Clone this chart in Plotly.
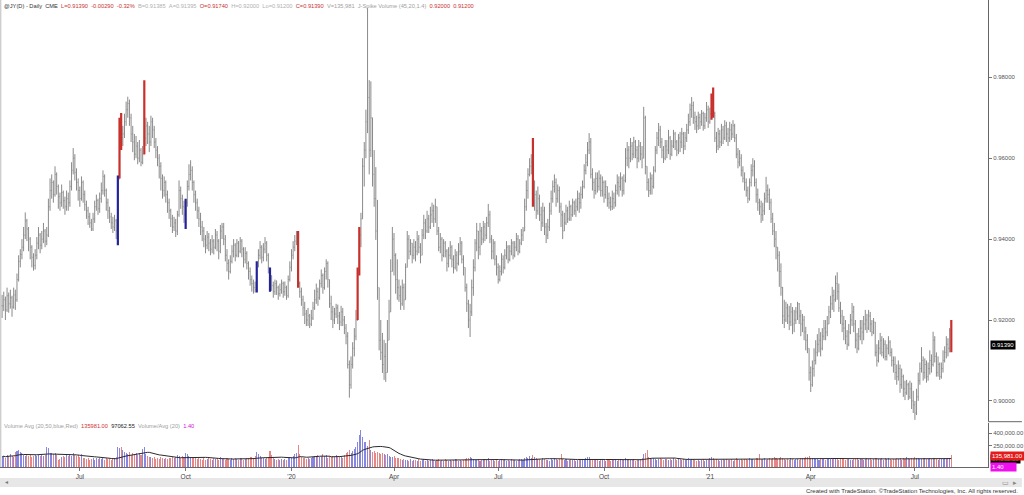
import plotly.graph_objects as go
import pandas as pd

# ---------------- data (prices in 1/10000, volume in thousands) ----------------
START = "2019-04-24"
HOLIDAYS = ["2019-05-27", "2019-07-04", "2019-09-02", "2019-11-28", "2019-12-25",
            "2020-01-01", "2020-01-20", "2020-02-17", "2020-04-10", "2020-05-25",
            "2020-07-03", "2020-09-07", "2020-11-26", "2020-12-25", "2021-01-01",
            "2021-01-18", "2021-02-15", "2021-04-02", "2021-05-31", "2021-07-05"]

HIGH = [
    9262, 9270, 9258, 9280, 9268, 9275, 9260, 9280, 9275, 9315,
    9360, 9375, 9400, 9430, 9466, 9450, 9430, 9405, 9385, 9365,
    9375, 9405, 9430, 9415, 9420, 9440, 9425, 9430, 9500, 9550,
    9560, 9545, 9580, 9565, 9535, 9515, 9535, 9520, 9505, 9520,
    9515, 9545, 9590, 9625, 9610, 9575, 9550, 9530, 9555, 9545,
    9520, 9495, 9480, 9465, 9450, 9465, 9495, 9510, 9500, 9515,
    9540, 9570, 9560, 9525, 9500, 9480, 9465, 9455, 9460, 9450,
    9557, 9700, 9712, 9680, 9710, 9740, 9752, 9745, 9710, 9680,
    9660, 9655, 9640, 9645, 9625, 9630, 9793, 9700, 9690, 9680,
    9705, 9700, 9680, 9650, 9630, 9610, 9590, 9560, 9555, 9545,
    9520, 9500, 9475, 9460, 9455, 9450, 9470, 9545, 9530, 9510,
    9495, 9500, 9545, 9585, 9595, 9580, 9545, 9520, 9500, 9480,
    9465, 9445, 9430, 9410, 9420, 9415, 9400, 9410, 9400, 9425,
    9420, 9400, 9435, 9440, 9440, 9410, 9375, 9350, 9360, 9385,
    9400, 9390, 9400, 9395, 9405, 9400, 9380, 9380, 9370, 9345,
    9330, 9310, 9300, 9295, 9345, 9375, 9395, 9385, 9390, 9405,
    9395, 9365, 9325, 9310, 9295, 9300, 9298, 9285, 9290, 9300,
    9295, 9295, 9285, 9310, 9345, 9375, 9395, 9410, 9420, 9420,
    9295, 9280, 9260, 9245, 9225, 9230, 9215, 9225, 9245, 9275,
    9290, 9280, 9300, 9325, 9315, 9330, 9350, 9345, 9300, 9260,
    9235, 9230, 9240, 9238, 9220, 9235, 9230, 9210, 9190, 9170,
    9100, 9110, 9145, 9180, 9225, 9330, 9430, 9465, 9600, 9640,
    9720, 9971, 9793, 9790, 9677, 9620, 9578, 9497, 9250, 9200,
    9168, 9151, 9143, 9200, 9250, 9350, 9430, 9415, 9365, 9350,
    9300, 9285, 9300, 9290, 9340, 9420, 9410, 9400, 9390, 9400,
    9395, 9420, 9410, 9390, 9425, 9460, 9450, 9470, 9460, 9480,
    9490, 9485, 9500, 9480, 9430, 9415, 9405, 9400, 9395, 9375,
    9380, 9395, 9385, 9360, 9375, 9370, 9390, 9405, 9395, 9360,
    9330, 9290, 9250, 9240, 9300, 9350, 9400, 9440, 9420, 9440,
    9430, 9445, 9440, 9455, 9487, 9470, 9410, 9400, 9395, 9360,
    9340, 9335, 9365, 9360, 9375, 9395, 9385, 9385, 9400, 9395,
    9395, 9415, 9410, 9400, 9425, 9430, 9500, 9545, 9575, 9600,
    9610, 9650, 9545, 9520, 9530, 9510, 9480, 9490, 9480, 9440,
    9450, 9490, 9520, 9545, 9560, 9550, 9535, 9530, 9490, 9470,
    9465, 9485, 9480, 9495, 9485, 9500, 9495, 9500, 9520, 9515,
    9530, 9545, 9585, 9610, 9640, 9662, 9650, 9575, 9550, 9565,
    9565, 9570, 9560, 9555, 9545, 9545, 9530, 9515, 9505, 9520,
    9515, 9535, 9560, 9555, 9565, 9555, 9560, 9625, 9640, 9630,
    9650, 9640, 9653, 9645, 9630, 9645, 9640, 9630, 9727, 9705,
    9578, 9550, 9565, 9560, 9580, 9630, 9665, 9687, 9680, 9650,
    9630, 9645, 9645, 9670, 9655, 9645, 9670, 9665, 9645, 9660,
    9665, 9675, 9665, 9665, 9685, 9710, 9735, 9751, 9740, 9715,
    9705, 9715, 9710, 9719, 9715, 9712, 9739, 9730, 9725, 9760,
    9775, 9715, 9665, 9675, 9670, 9685, 9680, 9694, 9690, 9675,
    9690, 9685, 9694, 9685, 9660, 9625, 9620, 9610, 9580, 9565,
    9550, 9530, 9550, 9585, 9600, 9595, 9550, 9525, 9500, 9495,
    9490, 9515, 9554, 9535, 9525, 9500, 9465, 9440, 9420, 9373,
    9370, 9340, 9282, 9250, 9245, 9240, 9235, 9242, 9232, 9225,
    9232, 9245, 9242, 9225, 9215, 9210, 9183, 9165, 9120, 9085,
    9100, 9130, 9150, 9165, 9180, 9170, 9180, 9200, 9200, 9210,
    9235, 9260, 9282, 9275, 9310, 9318, 9290, 9245, 9225, 9210,
    9200, 9175, 9190, 9215, 9242, 9235, 9200, 9168, 9180, 9200,
    9200, 9210, 9225, 9215, 9225, 9220, 9200, 9205, 9195, 9140,
    9150, 9168, 9160, 9155, 9150, 9140, 9160, 9150, 9130, 9110,
    9110, 9090, 9100, 9090, 9080, 9065, 9050, 9052, 9045, 9050,
    9045, 9025, 9000, 9030, 9070, 9095, 9133, 9110, 9105, 9100,
    9095, 9125, 9115, 9171, 9160, 9120, 9110, 9095, 9095, 9125,
    9135, 9160, 9155, 9180, 9200,
]

LOW = [
    9205, 9222, 9200, 9220, 9218, 9228, 9208, 9228, 9225, 9245,
    9295, 9330, 9350, 9370, 9400, 9395, 9370, 9350, 9330, 9322,
    9325, 9350, 9375, 9365, 9375, 9390, 9380, 9385, 9405, 9470,
    9500, 9490, 9505, 9510, 9475, 9470, 9480, 9475, 9460, 9470,
    9470, 9480, 9520, 9560, 9545, 9520, 9495, 9480, 9495, 9490,
    9470, 9450, 9435, 9428, 9420, 9420, 9440, 9470, 9460, 9465,
    9490, 9510, 9505, 9470, 9450, 9440, 9425, 9415, 9420, 9400,
    9385, 9560, 9620, 9630, 9650, 9680, 9700, 9680, 9640, 9615,
    9595, 9600, 9585, 9590, 9580, 9585, 9615, 9630, 9635, 9615,
    9630, 9650, 9625, 9600, 9580, 9550, 9520, 9500, 9505, 9490,
    9465, 9450, 9430, 9415, 9420, 9405, 9410, 9455, 9475, 9460,
    9440, 9425, 9480, 9520, 9545, 9520, 9490, 9470, 9450, 9430,
    9410, 9395, 9380, 9365, 9375, 9370, 9360, 9365, 9362, 9375,
    9370, 9350, 9365, 9400, 9385, 9345, 9320, 9300, 9315, 9340,
    9355, 9345, 9355, 9355, 9365, 9355, 9330, 9340, 9325, 9300,
    9285, 9270, 9265, 9268, 9268, 9330, 9350, 9340, 9345, 9365,
    9345, 9315, 9270, 9272, 9255, 9262, 9262, 9250, 9258, 9265,
    9255, 9260, 9250, 9255, 9295, 9320, 9350, 9370, 9385, 9280,
    9255, 9235, 9210, 9190, 9185, 9185, 9180, 9185, 9200, 9225,
    9240, 9235, 9250, 9280, 9265, 9275, 9300, 9280, 9230, 9200,
    9180, 9190, 9205, 9190, 9175, 9185, 9185, 9165, 9140, 9080,
    9008, 9030, 9080, 9110, 9150, 9250, 9310, 9380, 9450, 9530,
    9600, 9662, 9560, 9603, 9530, 9480, 9398, 9250, 9125, 9101,
    9069, 9052, 9047, 9070, 9160, 9250, 9330, 9310, 9265, 9250,
    9245, 9225, 9235, 9225, 9260, 9330, 9350, 9360, 9340, 9350,
    9345, 9360, 9365, 9340, 9360, 9400, 9400, 9415, 9415, 9425,
    9440, 9430, 9440, 9410, 9370, 9365, 9345, 9355, 9355, 9320,
    9330, 9350, 9330, 9315, 9325, 9320, 9335, 9360, 9340, 9310,
    9270, 9220, 9180, 9158, 9210, 9260, 9320, 9370, 9350, 9360,
    9385, 9390, 9395, 9400, 9430, 9390, 9350, 9350, 9335, 9310,
    9290, 9295, 9310, 9315, 9325, 9350, 9340, 9345, 9360, 9350,
    9355, 9370, 9360, 9365, 9385, 9395, 9420, 9470, 9500, 9555,
    9560, 9480, 9470, 9450, 9460, 9445, 9420, 9430, 9410, 9390,
    9400, 9420, 9460, 9490, 9515, 9480, 9490, 9465, 9430, 9400,
    9420, 9435, 9440, 9445, 9445, 9455, 9460, 9455, 9470, 9465,
    9475, 9500, 9525, 9560, 9580, 9610, 9550, 9520, 9500, 9510,
    9515, 9520, 9505, 9505, 9490, 9500, 9480, 9475, 9470, 9472,
    9475, 9480, 9510, 9505, 9520, 9505, 9510, 9540, 9580, 9575,
    9590, 9595, 9600, 9600, 9575, 9590, 9595, 9575, 9610, 9560,
    9520, 9504, 9510, 9510, 9525, 9565, 9610, 9630, 9625, 9600,
    9588, 9595, 9600, 9610, 9596, 9605, 9625, 9620, 9605, 9610,
    9615, 9625, 9610, 9620, 9640, 9660, 9680, 9700, 9685, 9670,
    9662, 9670, 9672, 9680, 9668, 9672, 9690, 9675, 9685, 9695,
    9700, 9640, 9613, 9620, 9625, 9630, 9635, 9645, 9640, 9630,
    9640, 9645, 9650, 9640, 9600, 9575, 9580, 9555, 9540, 9520,
    9505, 9489, 9495, 9530, 9555, 9530, 9490, 9470, 9460, 9440,
    9445, 9460, 9490, 9490, 9472, 9440, 9410, 9380, 9350, 9320,
    9282, 9260, 9190, 9180, 9195, 9190, 9175, 9185, 9165, 9170,
    9190, 9200, 9190, 9160, 9170, 9150, 9125, 9118, 9050, 9022,
    9035, 9060, 9090, 9110, 9120, 9110, 9125, 9150, 9150, 9160,
    9190, 9205, 9225, 9220, 9245, 9250, 9220, 9190, 9170, 9150,
    9140, 9126, 9135, 9165, 9185, 9170, 9130, 9118, 9125, 9150,
    9140, 9150, 9175, 9168, 9175, 9170, 9160, 9165, 9110, 9085,
    9095, 9115, 9110, 9105, 9100, 9100, 9115, 9110, 9085, 9070,
    9052, 9040, 9050, 9020, 9030, 9010, 9002, 9015, 9002, 9005,
    8980, 8970, 8953, 8965, 9000, 9040, 9070, 9050, 9055, 9045,
    9050, 9065, 9070, 9085, 9095, 9060, 9060, 9052, 9055, 9070,
    9095, 9105, 9110, 9120, 9120,
]

CLOSE = [
    9235, 9250, 9225, 9260, 9240, 9255, 9232, 9262, 9250, 9300,
    9345, 9362, 9380, 9410, 9445, 9425, 9400, 9380, 9355, 9335,
    9360, 9390, 9410, 9385, 9400, 9420, 9395, 9410, 9480, 9520,
    9540, 9510, 9560, 9530, 9505, 9490, 9515, 9495, 9480, 9500,
    9490, 9530, 9570, 9600, 9565, 9540, 9520, 9500, 9540, 9510,
    9485, 9470, 9455, 9440, 9425, 9450, 9480, 9495, 9475, 9500,
    9520, 9555, 9520, 9490, 9470, 9455, 9440, 9430, 9445, 9420,
    9550, 9680, 9650, 9660, 9690, 9720, 9735, 9700, 9660, 9640,
    9610, 9630, 9600, 9620, 9590, 9610, 9650, 9680, 9660, 9640,
    9690, 9670, 9640, 9620, 9600, 9580, 9550, 9520, 9540, 9510,
    9490, 9470, 9450, 9430, 9440, 9420, 9460, 9520, 9500, 9480,
    9460, 9490, 9530, 9560, 9570, 9540, 9510, 9490, 9470, 9450,
    9430, 9420, 9400, 9385, 9405, 9390, 9375, 9395, 9380, 9410,
    9395, 9370, 9420, 9430, 9400, 9360, 9340, 9320, 9345, 9370,
    9385, 9360, 9390, 9370, 9395, 9375, 9350, 9365, 9340, 9320,
    9300, 9290, 9280, 9275, 9340, 9360, 9380, 9355, 9375, 9390,
    9360, 9330, 9310, 9285, 9270, 9290, 9280, 9265, 9275, 9290,
    9270, 9280, 9260, 9300, 9330, 9360, 9380, 9395, 9410, 9290,
    9270, 9250, 9230, 9215, 9200, 9210, 9190, 9205, 9230, 9250,
    9270, 9255, 9290, 9310, 9280, 9320, 9340, 9300, 9240, 9220,
    9200, 9215, 9230, 9210, 9195, 9220, 9200, 9180, 9160, 9090,
    9040, 9090, 9130, 9160, 9200, 9320, 9410, 9450, 9580, 9620,
    9690, 9750, 9620, 9700, 9560, 9500, 9420, 9280, 9150, 9120,
    9090, 9110, 9070, 9150, 9220, 9320, 9400, 9360, 9300, 9280,
    9260, 9240, 9280, 9250, 9330, 9400, 9370, 9390, 9360, 9380,
    9370, 9400, 9380, 9360, 9410, 9440, 9420, 9450, 9430, 9460,
    9470, 9450, 9480, 9420, 9380, 9400, 9360, 9390, 9370, 9340,
    9360, 9380, 9350, 9330, 9360, 9340, 9370, 9390, 9350, 9330,
    9280, 9240, 9200, 9220, 9280, 9330, 9390, 9420, 9380, 9420,
    9400, 9430, 9410, 9440, 9460, 9400, 9370, 9390, 9350, 9330,
    9300, 9320, 9350, 9330, 9360, 9380, 9350, 9370, 9390, 9360,
    9380, 9400, 9370, 9390, 9410, 9420, 9480, 9520, 9560, 9580,
    9590, 9490, 9510, 9470, 9500, 9460, 9440, 9470, 9430, 9410,
    9430, 9470, 9500, 9530, 9540, 9500, 9520, 9480, 9460, 9420,
    9440, 9470, 9450, 9480, 9460, 9490, 9470, 9480, 9500, 9490,
    9510, 9530, 9570, 9590, 9620, 9640, 9560, 9540, 9520, 9550,
    9530, 9550, 9520, 9540, 9510, 9530, 9500, 9490, 9480, 9500,
    9490, 9520, 9540, 9530, 9550, 9520, 9545, 9600, 9620, 9600,
    9630, 9610, 9640, 9620, 9600, 9630, 9610, 9600, 9700, 9580,
    9540, 9520, 9550, 9530, 9570, 9620, 9650, 9670, 9640, 9620,
    9600, 9630, 9620, 9650, 9610, 9630, 9660, 9640, 9620, 9650,
    9640, 9660, 9630, 9650, 9670, 9690, 9720, 9730, 9700, 9690,
    9680, 9700, 9690, 9710, 9680, 9700, 9720, 9690, 9710, 9740,
    9710, 9650, 9630, 9660, 9640, 9670, 9650, 9680, 9660, 9650,
    9670, 9660, 9680, 9650, 9610, 9590, 9600, 9570, 9550, 9540,
    9520, 9500, 9540, 9570, 9580, 9540, 9510, 9490, 9480, 9460,
    9470, 9500, 9520, 9510, 9490, 9450, 9420, 9400, 9380, 9360,
    9320, 9280, 9210, 9200, 9230, 9210, 9195, 9220, 9190, 9200,
    9220, 9240, 9210, 9190, 9200, 9170, 9150, 9130, 9070, 9040,
    9080, 9100, 9120, 9140, 9150, 9130, 9160, 9180, 9170, 9190,
    9220, 9240, 9260, 9250, 9290, 9270, 9230, 9210, 9190, 9180,
    9160, 9140, 9170, 9200, 9220, 9190, 9150, 9130, 9160, 9180,
    9170, 9190, 9200, 9180, 9210, 9190, 9170, 9195, 9120, 9100,
    9130, 9150, 9120, 9140, 9110, 9130, 9145, 9120, 9100, 9090,
    9070, 9060, 9080, 9040, 9060, 9030, 9020, 9040, 9010, 9030,
    9000, 8990, 8970, 9010, 9050, 9080, 9100, 9070, 9090, 9060,
    9080, 9100, 9090, 9150, 9110, 9070, 9090, 9060, 9080, 9100,
    9120, 9140, 9130, 9174, 9139,
]

VOLUME_K = [
    120, 135, 110, 140, 125, 150, 130, 118, 175, 190,
    205, 180, 160, 140, 130, 150, 125, 145, 120, 135,
    140, 128, 150, 132, 145, 125, 138, 240, 220, 170,
    165, 150, 160, 140, 85, 90, 120, 130, 115, 140,
    125, 150, 135, 160, 145, 130, 140, 120, 150, 110,
    100, 90, 105, 85, 95, 110, 80, 100, 95, 105,
    90, 105, 85, 110, 95, 100, 80, 95, 110, 120,
    235, 220, 240, 200, 180, 160, 150, 175, 140, 165,
    150, 170, 145, 160, 140, 210, 230, 150, 130, 120,
    120, 100, 115, 95, 110, 90, 120, 105, 95, 110,
    95, 110, 100, 120, 105, 115, 140, 125, 110, 130,
    120, 165, 150, 130, 115, 110, 105, 100, 95, 110,
    90, 80, 100, 85, 95, 105, 90, 80, 110, 95,
    100, 85, 115, 95, 90, 80, 105, 95, 85, 100,
    90, 110, 95, 80, 100, 105, 85, 95, 110, 100,
    115, 120, 110, 125, 175, 150, 130, 110, 100, 95,
    105, 120, 190, 140, 100, 90, 85, 95, 80, 90,
    85, 95, 80, 100, 120, 110, 130, 150, 170, 260,
    150, 120, 110, 100, 95, 105, 90, 100, 115, 130,
    125, 140, 120, 135, 150, 130, 145, 110, 125, 120,
    135, 120, 140, 115, 130, 125, 110, 140, 160, 180,
    200, 170, 190, 210, 230, 300, 380, 440, 360, 300,
    290, 250, 320, 200, 180, 190, 170, 175, 160, 155,
    165, 150, 140, 150, 130, 120, 115, 125, 110, 105,
    100, 95, 85, 90, 80, 85, 75, 90, 70, 80,
    85, 75, 90, 70, 80, 95, 75, 85, 70, 80,
    90, 80, 70, 85, 95, 75, 80, 70, 90, 85,
    75, 85, 70, 80, 95, 90, 75, 80, 70, 85,
    95, 100, 110, 120, 105, 90, 85, 80, 90, 75,
    80, 90, 95, 85, 100, 75, 80, 85, 70, 80,
    75, 85, 90, 80, 95, 70, 85, 75, 90, 80,
    85, 75, 80, 90, 95, 85, 110, 115, 100, 125,
    110, 140, 120, 100, 95, 90, 85, 105, 90, 80,
    85, 75, 90, 80, 100, 95, 85, 90, 150, 95,
    80, 90, 75, 85, 95, 80, 90, 75, 85, 90,
    80, 95, 85, 100, 115, 120, 90, 85, 80, 95,
    85, 75, 90, 80, 85, 75, 80, 90, 70, 85,
    80, 95, 75, 85, 90, 80, 85, 100, 95, 90,
    85, 80, 90, 75, 80, 85, 95, 110, 150, 160,
    200, 120, 110, 95, 105, 90, 85, 95, 100, 90,
    85, 95, 90, 80, 95, 85, 100, 90, 80, 95,
    90, 85, 95, 80, 90, 100, 85, 95, 90, 80,
    75, 85, 70, 80, 90, 75, 85, 80, 110, 120,
    100, 85, 90, 80, 75, 85, 90, 80, 95, 85,
    80, 90, 75, 85, 100, 90, 85, 95, 80, 90,
    95, 85, 100, 90, 95, 85, 100, 110, 155, 95,
    90, 100, 85, 95, 110, 90, 100, 115, 105, 95,
    110, 120, 105, 90, 85, 95, 80, 100, 90, 85,
    90, 95, 85, 100, 105, 110, 120, 115, 125, 110,
    105, 100, 95, 90, 85, 100, 95, 90, 85, 95,
    90, 100, 105, 95, 110, 95, 85, 90, 100, 95,
    85, 95, 90, 80, 85, 95, 90, 105, 85, 90,
    95, 85, 90, 100, 95, 105, 85, 90, 110, 100,
    95, 90, 105, 85, 110, 95, 100, 90, 85, 95,
    90, 105, 95, 100, 85, 110, 95, 120, 100, 95,
    105, 95, 120, 110, 100, 90, 95, 105, 100, 90,
    95, 100, 90, 110, 105, 95, 85, 100, 90, 95,
    100, 95, 105, 110, 135.981,
]

SPIKE_UP = [71, 72, 86, 179, 215, 216, 321, 429, 430, 574]   # red J-Spike bars
SPIKE_DN = [70, 111, 154, 162]                               # blue J-Spike bars

TICK_DATES = ["2019-07-01", "2019-10-01", "2020-01-02", "2020-04-01", "2020-07-01",
              "2020-10-01", "2021-01-04", "2021-04-01", "2021-07-01"]
TICK_LABELS = ["Jul", "Oct", "'20", "Apr", "Jul", "Oct", "'21", "Apr", "Jul"]
PRICE_TICKS = [0.90, 0.92, 0.94, 0.96, 0.98]
VOL_TICKS = [250000, 400000]
VOL_TICK_TEXT = ["250,000.00", "400,000.00"]

# ---------------- preparation ----------------
N = len(CLOSE)
assert len(HIGH) == N and len(LOW) == N and len(VOLUME_K) == N
close = [c / 10000 for c in CLOSE]
opn = [close[0]] + close[:-1]
high = [max(h / 10000, o, c) for h, o, c in zip(HIGH, opn, close)]
low = [min(l / 10000, o, c) for l, o, c in zip(LOW, opn, close)]
vol = [v * 1000 for v in VOLUME_K]
idx = list(range(N))

dates = pd.bdate_range(START, periods=N, freq="C", holidays=HOLIDAYS)
tick_pos = [int(dates.searchsorted(pd.Timestamp(d))) for d in TICK_DATES]

spikes = set(SPIKE_UP) | set(SPIKE_DN)
gray_i = [i for i in idx if i not in spikes]

def sub(ii):
    return dict(x=ii, open=[opn[i] for i in ii], high=[high[i] for i in ii],
                low=[low[i] for i in ii], close=[close[i] for i in ii])

GRAY = "#8a8a8a"
RED = "#c8302c"
BLUE = "#23239a"

fig = go.Figure()
fig.add_trace(go.Ohlc(**sub(gray_i), increasing=dict(line=dict(color=GRAY, width=1)),
                      decreasing=dict(line=dict(color=GRAY, width=1)),
                      tickwidth=0.35, hoverinfo="skip", showlegend=False))
fig.add_trace(go.Ohlc(**sub(SPIKE_UP), increasing=dict(line=dict(color=RED, width=2.2)),
                      decreasing=dict(line=dict(color=RED, width=2.2)),
                      tickwidth=0.3, hoverinfo="skip", showlegend=False))
fig.add_trace(go.Ohlc(**sub(SPIKE_DN), increasing=dict(line=dict(color=BLUE, width=2.2)),
                      decreasing=dict(line=dict(color=BLUE, width=2.2)),
                      tickwidth=0.04, hoverinfo="skip", showlegend=False))

vcol = ["rgba(95,95,215,0.75)" if close[i] >= opn[i] else "rgba(220,95,95,0.75)" for i in idx]
fig.add_trace(go.Bar(x=idx, y=vol, marker=dict(color=vcol, line=dict(width=0)), width=0.62,
                     yaxis="y2", hoverinfo="skip", showlegend=False))
avg = pd.Series(vol).rolling(20, min_periods=1).mean()
fig.add_trace(go.Scatter(x=idx, y=avg, mode="lines", line=dict(color="#2a2a2a", width=1),
                         yaxis="y2", hoverinfo="skip", showlegend=False))

FONT = "Liberation Sans, Arial, sans-serif"
W_R = 1024 / 990.0

fig.update_layout(
    width=1024, height=495,
    margin=dict(l=0, r=34, t=0, b=28),
    paper_bgcolor="white", plot_bgcolor="white",
    font=dict(family=FONT, size=6, color="#555"),
    bargap=0,
    xaxis=dict(range=[-1.27, 596.2], tickvals=tick_pos, ticktext=TICK_LABELS,
               ticks="outside", ticklen=3, tickcolor="#777", tickfont=dict(size=6.5, color="#444"),
               showgrid=False, zeroline=False, showline=True, linecolor="#666", linewidth=1,
               anchor="y2", rangeslider=dict(visible=False)),
    yaxis=dict(domain=[0.0985, 1], range=[0.89503, 0.99911], side="right",
               tickvals=PRICE_TICKS, ticktext=["%.5f" % v for v in PRICE_TICKS],
               ticks="outside", ticklen=3, tickcolor="#777", tickfont=dict(size=6, color="#555"),
               showgrid=False, zeroline=False, showline=True, linecolor="#666", linewidth=1),
    yaxis2=dict(domain=[0, 0.094], range=[0, 520000], side="right",
                tickvals=VOL_TICKS, ticktext=VOL_TICK_TEXT,
                ticks="outside", ticklen=3, tickcolor="#777", tickfont=dict(size=6, color="#555"),
                showgrid=False, zeroline=False, showline=True, linecolor="#666", linewidth=1),
)

shapes = [
    dict(type="line", xref="paper", yref="paper", x0=1, x1=W_R, y0=0.097, y1=0.097,
         line=dict(color="#666", width=1)),
    dict(type="line", xref="paper", yref="paper", x0=0.0008, x1=0.0008, y0=0, y1=1,
         line=dict(color="#bbb", width=1)),
    dict(type="rect", xref="paper", yref="paper", x0=0, x1=W_R, y0=-0.0236, y1=-0.0428,
         fillcolor="#e7e7e7", line=dict(width=0), layer="below"),
]
fig.update_layout(shapes=shapes)

sp = "\u00a0\u00a0"
R = "#c83232"
header = (f'<span style="color:#333">@JY(D) - Daily{sp}CME</span>{sp}'
          f'<span style="color:{R}">L=0.91390{sp}-0.00290{sp}-0.32%</span>{sp}'
          f'<span style="color:#b0b0b0">B=0.91385{sp}A=0.91395</span>{sp}'
          f'<span style="color:{R}">O=0.91740</span>{sp}'
          f'<span style="color:#b0b0b0">H=0.92000{sp}Lo=0.91200</span>{sp}'
          f'<span style="color:{R}">C=0.91390</span>{sp}'
          f'<span style="color:#a0a0a0">V=135,981{sp}J-Spike Volume (45,20,1.4)</span>{sp}'
          f'<span style="color:{R}">0.92000{sp}0.91200</span>')
vheader = (f'<span style="color:#a0a0a0">Volume Avg (20,50,blue,Red)</span>{sp}'
           f'<span style="color:#d03030">135981.00</span>{sp}'
           f'<span style="color:#222">97062.55</span>{sp}'
           f'<span style="color:#a0a0a0">Volume/Avg (20)</span>{sp}'
           f'<span style="color:#d020d0">1.40</span>')

ann = [
    dict(text=header, xref="paper", yref="paper", x=0, y=1, xanchor="left", yanchor="top",
         xshift=2, yshift=-1, showarrow=False, font=dict(size=5.7, family=FONT)),
    dict(text=vheader, xref="paper", yref="paper", x=0, y=0.0878, xanchor="left", yanchor="middle",
         xshift=2, showarrow=False, font=dict(size=5.7, family=FONT)),
    dict(text="0.91390", xref="paper", yref="y", x=1, y=close[-1], xanchor="left", yanchor="middle",
         xshift=2, showarrow=False, bgcolor="black", borderpad=1,
         font=dict(size=6, color="white", family=FONT)),
    dict(text="97,062.55", xref="paper", yref="y2", x=1, y=avg.iloc[-1], xanchor="left",
         yanchor="middle", xshift=2, showarrow=False, bgcolor="black", borderpad=1,
         font=dict(size=6, color="#888", family=FONT)),
    dict(text="135,981.00", xref="paper", yref="y2", x=1, y=vol[-1], xanchor="left",
         yanchor="middle", xshift=2, showarrow=False, bgcolor="#e51b1b", borderpad=1,
         font=dict(size=6, color="white", family=FONT)),
    dict(text="1.40\u00a0\u00a0\u00a0\u00a0\u00a0\u00a0\u00a0", xref="paper", yref="paper", x=1,
         y=0.0, xanchor="left", yanchor="middle", xshift=2, showarrow=False, bgcolor="#ee11ee",
         borderpad=1, font=dict(size=6, color="white", family=FONT)),
    dict(text="Created with TradeStation. \u00a9TradeStation Technologies, Inc. All rights reserved.",
         xref="paper", yref="paper", x=W_R, y=-0.0514, xanchor="right", yanchor="middle",
         xshift=-2, showarrow=False, font=dict(size=6, color="#333", family=FONT)),
    dict(text="\u25c2", xref="paper", yref="paper", x=0, y=-0.033, xanchor="left", yanchor="middle",
         xshift=3, showarrow=False, font=dict(size=6, color="#777", family=FONT)),
    dict(text="\u25ad\u00a0\u00a0\u25b8", xref="paper", yref="paper", x=W_R, y=-0.033,
         xanchor="right", yanchor="middle", xshift=-3, showarrow=False,
         font=dict(size=7, color="#888", family=FONT)),
]
fig.update_layout(annotations=ann)

fig.write_html("out.html", config={"displayModeBar": False},
               post_script="document.body.style.margin='0';document.body.style.overflow='hidden';")
